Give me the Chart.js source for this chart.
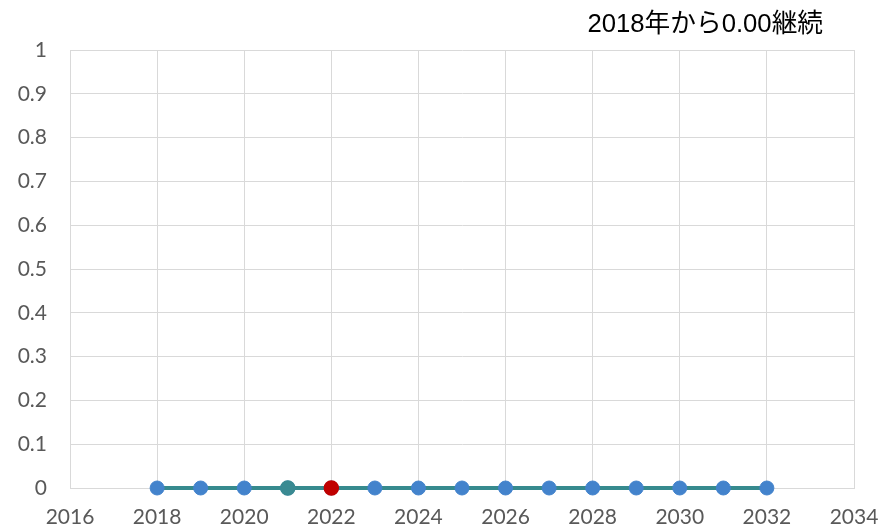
<!DOCTYPE html>
<html>
<head>
<meta charset="utf-8">
<script src="https://cdn.jsdelivr.net/npm/chart.js@4"></script>
<style>
  html, body { margin: 0; padding: 0; background: #fff; }
  #wrap { width: 881px; height: 529px; }
</style>
</head>
<body>
<div id="wrap"><canvas id="chart"></canvas></div>
<script>
const years = [2018, 2019, 2020, 2021, 2022, 2023, 2024, 2025, 2026, 2027, 2028, 2029, 2030, 2031, 2032]
const values = [0, 0, 0, 0, 0, 0, 0, 0, 0, 0, 0, 0, 0, 0, 0]
const markYear = [2021]
const markValue = [0]
const nowYear = [2022]
const nowValue = [0]
const titleText = "2018年から0.00継続"

const toPoints = (xs, ys) => xs.map((x, i) => ({ x: x, y: ys[i] }))

// title drawn on the canvas, top right
const titlePlugin = {
    id: "cornerTitle",
    afterDraw(chart) {
        const ctx = chart.ctx
        ctx.save()
        ctx.font = '25.7px "Liberation Sans", "Noto Sans CJK JP", sans-serif'
        ctx.fillStyle = "#000"
        ctx.textAlign = "right"
        ctx.textBaseline = "alphabetic"
        ctx.fillText(titleText, 823, 32)
        ctx.restore()
    }
}

const tickFont = { family: 'Lato, "Liberation Sans", sans-serif', size: 21 }

new Chart("chart", {
    type: "scatter",
    data: {
        datasets: [
            {
                label: "now",
                data: toPoints(nowYear, nowValue),
                backgroundColor: "#c00000",
                borderColor: "#c00000",
                borderWidth: 1.5,
                pointRadius: 7,
                pointHoverRadius: 7,
                clip: false,
                order: 0
            },
            {
                label: "mark",
                data: toPoints(markYear, markValue),
                backgroundColor: "#3a8a92",
                borderColor: "#3a8a92",
                borderWidth: 1.5,
                pointRadius: 7,
                pointHoverRadius: 7,
                clip: false,
                order: 1
            },
            {
                label: "value",
                data: toPoints(years, values),
                showLine: true,
                borderColor: "#368a8e",
                borderWidth: 4,
                backgroundColor: "#4383cc",
                pointBorderColor: "#4383cc",
                pointBorderWidth: 1,
                pointRadius: 7,
                pointHoverRadius: 7,
                clip: false,
                order: 2
            }
        ]
    },
    options: {
        responsive: true,
        maintainAspectRatio: false,
        animation: false,
        layout: { padding: { top: 50, right: 27, left: 0, bottom: 0 } },
        plugins: {
            legend: { display: false },
            title: { display: false },
            tooltip: { enabled: false }
        },
        scales: {
            x: {
                type: "linear",
                min: 2016,
                max: 2034,
                ticks: { stepSize: 2, color: "#595959", font: tickFont, padding: 17,
                         callback: v => String(v) },
                grid: { color: "#d9d9d9", lineWidth: 1, drawTicks: false },
                border: { color: "#d9d9d9" },
                afterFit: s => { s.height = 41; s.paddingLeft = 0; s.paddingRight = 0 }
            },
            y: {
                min: 0,
                max: 1,
                ticks: { stepSize: 0.1, color: "#595959", font: tickFont, padding: 23,
                         callback: v => String(Math.round(v * 10) / 10) },
                grid: { color: "#d9d9d9", lineWidth: 1, drawTicks: false },
                border: { color: "#d9d9d9" },
                afterFit: s => { s.width = 70; s.paddingTop = 0; s.paddingBottom = 0 }
            }
        }
    },
    plugins: [titlePlugin]
})
</script>
</body>
</html>
